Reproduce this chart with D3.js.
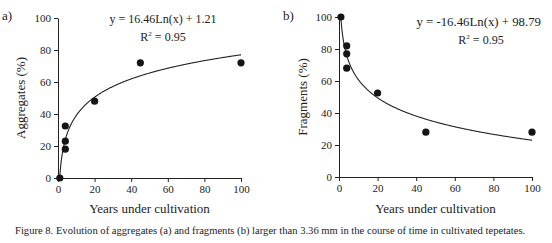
<!DOCTYPE html>
<html>
<head>
<meta charset="utf-8">
<script src="https://cdn.jsdelivr.net/npm/d3@7"></script>
<style>
  body { margin: 0; background: #fff; }
  svg { display: block; }
  text { font-family: "Liberation Serif", "Times New Roman", serif; fill: #222; }
  .axis path, .axis line { stroke: #222; }
  .axis text { font-family: "Liberation Serif", "Times New Roman", serif; font-size: 11px; fill: #222; }
</style>
</head>
<body>
<svg id="fig" width="552" height="243"></svg>
<script>
// Years under cultivation for each sample
const aggYears = [1, 4, 4, 4, 20, 45, 100];
const aggValues = [0, 18, 23, 32.5, 48, 72, 72];

const fragYears = [1, 4, 4, 4, 20, 45, 100];
const fragValues = [100, 82, 77, 68, 52.5, 28, 28];

// Fitted log models y = a*ln(x) + b
const aggFit = [16.46, 1.21];
const fragFit = [-16.46, 98.79];

const xTicks = [0, 20, 40, 60, 80, 100];
const yTicks = [0, 20, 40, 60, 80, 100];

const svg = d3.select('#fig');

function drawPanel(cfg) {
    const x = d3.scaleLinear().domain([0, 100]).range([cfg.left, cfg.right]);
    const y = d3.scaleLinear().domain([0, 100]).range([cfg.bottom, cfg.top]);

    const g = svg.append('g');

    g.append('g')
        .attr('class', 'axis')
        .attr('transform', `translate(0,${cfg.bottom})`)
        .call(d3.axisBottom(x).tickValues(xTicks).tickSize(4).tickSizeOuter(0).tickPadding(3));

    g.append('g')
        .attr('class', 'axis')
        .attr('transform', `translate(${cfg.left},0)`)
        .call(d3.axisLeft(y).tickValues(yTicks).tickSize(4).tickSizeOuter(0).tickPadding(3));

    // trend line from the equation shown on the chart
    const curveX = d3.range(1, 100.01, 0.25);
    g.append('path')
        .datum(curveX)
        .attr('fill', 'none')
        .attr('stroke', '#222')
        .attr('stroke-width', 1.1)
        .attr('d', d3.line()
            .x(d => x(d))
            .y(d => y(cfg.fit[0] * Math.log(d) + cfg.fit[1])));

    g.selectAll('.dot')
        .data(cfg.years.map((yr, i) => [yr, cfg.values[i]]))
        .join('circle')
        .attr('class', 'dot')
        .attr('cx', d => x(d[0]))
        .attr('cy', d => y(d[1]))
        .attr('r', 3.6)
        .attr('fill', '#151515');

    g.append('text')
        .attr('x', (cfg.left + cfg.right) / 2)
        .attr('y', 213)
        .attr('text-anchor', 'middle')
        .style('font-size', '13px')
        .text('Years under cultivation');

    g.append('text')
        .attr('transform', `translate(${cfg.titleX},${(cfg.top + cfg.bottom) / 2}) rotate(-90)`)
        .attr('text-anchor', 'middle')
        .style('font-size', '13px')
        .text(cfg.yTitle);

    g.append('text')
        .attr('x', cfg.labelX)
        .attr('y', 20)
        .style('font-size', '13px')
        .text(cfg.label);

    g.append('text')
        .attr('x', cfg.eqX)
        .attr('y', cfg.eqY)
        .attr('text-anchor', cfg.eqAnchor)
        .style('font-size', cfg.eqSize)
        .text(cfg.eq);

    const r2 = g.append('text')
        .attr('x', cfg.r2X)
        .attr('y', cfg.eqY + 18)
        .attr('text-anchor', 'middle')
        .style('font-size', '12px');
    r2.append('tspan').text('R');
    r2.append('tspan').attr('dy', -5).style('font-size', '7px').text('2');
    r2.append('tspan').attr('dy', 5).text(' = 0.95');
}

drawPanel({
    left: 58, right: 241, top: 18, bottom: 178,
    years: aggYears, values: aggValues, fit: aggFit,
    yTitle: 'Aggregates (%)', titleX: 25, label: 'a)', labelX: 2,
    eq: 'y = 16.46Ln(x) + 1.21', eqX: 163, eqY: 23, eqAnchor: 'middle', eqSize: '12px', r2X: 163
});

drawPanel({
    left: 339, right: 532, top: 17, bottom: 177,
    years: fragYears, values: fragValues, fit: fragFit,
    yTitle: 'Fragments (%)', titleX: 307, label: 'b)', labelX: 283,
    eq: 'y = -16.46Ln(x) + 98.79', eqX: 541, eqY: 26, eqAnchor: 'end', eqSize: '12.8px', r2X: 481
});

svg.append('text')
    .attr('x', 15)
    .attr('y', 234)
    .style('font-size', '10.6px')
    .text('Figure 8. Evolution of aggregates (a) and fragments (b) larger than 3.36 mm in the course of time in cultivated tepetates.');
</script>
</body>
</html>
